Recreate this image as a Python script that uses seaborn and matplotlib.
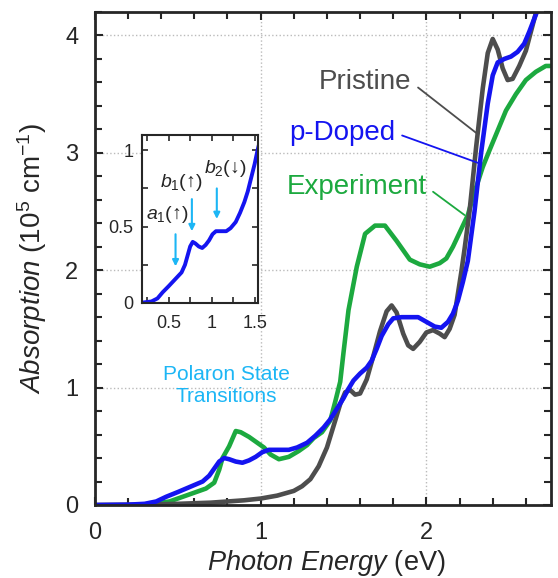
import matplotlib
matplotlib.use('Agg')
import pandas as pd
import matplotlib.pyplot as plt
import seaborn as sns
from matplotlib.ticker import MultipleLocator

# Pristine (theory)
pristine_e = [0.0, 0.3, 0.5, 0.7, 0.9, 1.0, 1.1, 1.2, 1.25, 1.3, 1.35, 1.4, 1.45, 1.48,
              1.51, 1.54, 1.57, 1.60, 1.64, 1.68, 1.72, 1.76, 1.79, 1.82, 1.86, 1.89,
              1.92, 1.96, 2.00, 2.04, 2.08, 2.11, 2.14, 2.17, 2.19, 2.21, 2.23, 2.26,
              2.30, 2.34, 2.37, 2.40, 2.43, 2.46, 2.49, 2.52, 2.56, 2.60, 2.63, 2.66, 2.70]
pristine_abs = [0.0, 0.003, 0.01, 0.02, 0.04, 0.055, 0.08, 0.12, 0.16, 0.22, 0.33, 0.49,
                0.72, 0.86, 0.96, 0.98, 0.94, 0.95, 1.07, 1.27, 1.48, 1.65, 1.70, 1.64,
                1.46, 1.36, 1.33, 1.39, 1.47, 1.49, 1.46, 1.43, 1.50, 1.62, 1.80, 1.98,
                2.18, 2.50, 3.05, 3.55, 3.85, 3.97, 3.88, 3.72, 3.62, 3.63, 3.74, 3.87,
                4.03, 4.19, 4.45]

# p-Doped (theory)
doped_e = [0.0, 0.2, 0.3, 0.37, 0.43, 0.5, 0.55, 0.6, 0.65, 0.69, 0.72, 0.75, 0.78,
           0.81, 0.85, 0.89, 0.93, 0.97, 1.01, 1.05, 1.10, 1.17, 1.22, 1.28, 1.33,
           1.38, 1.42, 1.46, 1.50, 1.53, 1.56, 1.60, 1.64, 1.67, 1.70, 1.73, 1.77,
           1.80, 1.85, 1.90, 1.95, 2.00, 2.05, 2.09, 2.13, 2.16, 2.19, 2.22, 2.25,
           2.29, 2.33, 2.37, 2.40, 2.43, 2.47, 2.51, 2.55, 2.59, 2.62, 2.65, 2.68]
doped_abs = [0.0, 0.003, 0.01, 0.03, 0.07, 0.11, 0.14, 0.17, 0.20, 0.25, 0.31, 0.37,
             0.40, 0.39, 0.37, 0.36, 0.38, 0.41, 0.45, 0.47, 0.47, 0.47, 0.49, 0.53,
             0.59, 0.66, 0.73, 0.82, 0.91, 0.99, 1.06, 1.12, 1.17, 1.23, 1.33, 1.44,
             1.54, 1.59, 1.60, 1.60, 1.60, 1.56, 1.52, 1.51, 1.56, 1.63, 1.74, 1.90,
             2.08, 2.50, 3.00, 3.42, 3.66, 3.77, 3.80, 3.82, 3.86, 3.93, 4.03, 4.14, 4.25]

# Experiment
exp_e = [0.30, 0.45, 0.57, 0.67, 0.72, 0.75, 0.77, 0.81, 0.85, 0.88, 0.93, 0.98, 1.02,
         1.06, 1.11, 1.17, 1.23, 1.28, 1.32, 1.37, 1.42, 1.45, 1.48, 1.50, 1.53, 1.58,
         1.63, 1.69, 1.75, 1.82, 1.90, 1.96, 2.02, 2.08, 2.12, 2.16, 2.20, 2.25, 2.28,
         2.34, 2.38, 2.43, 2.48, 2.54, 2.60, 2.66, 2.72, 2.75]
exp_abs = [0.0, 0.03, 0.09, 0.14, 0.19, 0.30, 0.40, 0.50, 0.63, 0.62, 0.58, 0.53, 0.49,
           0.43, 0.39, 0.41, 0.46, 0.51, 0.57, 0.62, 0.72, 0.88, 1.05, 1.30, 1.66, 2.03,
           2.31, 2.38, 2.38, 2.25, 2.09, 2.05, 2.03, 2.06, 2.10, 2.20, 2.32, 2.47, 2.62,
           2.88, 3.02, 3.19, 3.36, 3.50, 3.62, 3.69, 3.74, 3.74]

pristine = pd.DataFrame({'energy': pristine_e, 'absorption': pristine_abs})
doped = pd.DataFrame({'energy': doped_e, 'absorption': doped_abs})
experiment = pd.DataFrame({'energy': exp_e, 'absorption': exp_abs})

gray = '#4d4d4d'
blue = '#1414f0'
green = '#1ca93f'
light_blue = '#1cb6f5'

sns.set_style('ticks')
plt.rcParams['font.family'] = ['Liberation Sans', 'DejaVu Sans']
plt.rcParams['mathtext.fontset'] = 'custom'
plt.rcParams['mathtext.rm'] = 'Liberation Sans'
plt.rcParams['mathtext.it'] = 'Liberation Sans:italic'

fig = plt.figure(figsize=(5.58, 5.78), dpi=100)
ax = fig.add_axes([0.170, 0.1263, 0.817, 0.853])

sns.lineplot(data=experiment, x='energy', y='absorption', color=green, lw=3.3, ax=ax, legend=False)
sns.lineplot(data=pristine, x='energy', y='absorption', color=gray, lw=3.3, ax=ax, legend=False)
sns.lineplot(data=doped, x='energy', y='absorption', color=blue, lw=3.3, ax=ax, legend=False)

ax.set_xlim(0, 2.75)
ax.set_ylim(0, 4.2)
ax.xaxis.set_major_locator(MultipleLocator(1))
ax.xaxis.set_minor_locator(MultipleLocator(0.2))
ax.yaxis.set_major_locator(MultipleLocator(1))
ax.yaxis.set_minor_locator(MultipleLocator(0.2))
ax.tick_params(which='both', direction='in', top=True, right=True, width=1.5, labelsize=17)
ax.tick_params(which='major', length=6)
ax.tick_params(which='minor', length=5)
ax.tick_params(axis='x', pad=12)
ax.tick_params(axis='y', pad=12)
ax.grid(True, which='major', ls=':', color='#bbbbbb', lw=1)
for s in ax.spines.values():
    s.set_linewidth(2)

ax.set_xlabel(r'$\mathit{Photon\ Energy}$ (eV)', fontsize=19.5)
ax.set_ylabel(r'$\mathit{Absorption}$ (10$^5$ cm$^{-1}$)', fontsize=20)
ax.xaxis.set_label_coords(0.507, -0.088)
ax.yaxis.set_label_coords(-0.10, 0.50)

# labels with leader lines
ax.annotate('Pristine', xy=(2.30, 3.17), xytext=(1.91, 3.60), ha='right', va='center',
            fontsize=20, color=gray,
            arrowprops=dict(arrowstyle='-', color=gray, lw=1.3, relpos=(1, 0.5), shrinkA=3, shrinkB=0))
ax.annotate('p-Doped', xy=(2.32, 2.91), xytext=(1.81, 3.17), ha='right', va='center',
            fontsize=20, color=blue,
            arrowprops=dict(arrowstyle='-', color=blue, lw=1.3, relpos=(1, 0.5), shrinkA=3, shrinkB=0))
ax.annotate('Experiment', xy=(2.23, 2.47), xytext=(2.0, 2.71), ha='right', va='center',
            fontsize=20, color=green,
            arrowprops=dict(arrowstyle='-', color=green, lw=1.3, relpos=(1, 0.5), shrinkA=3, shrinkB=0))
ax.text(0.795, 1.02, 'Polaron State\nTransitions', ha='center', va='center',
        fontsize=15, color=light_blue, linespacing=1.2)

# inset: p-Doped at low energy
axin = fig.add_axes([0.2545, 0.4758, 0.208, 0.2907])
axin.set_facecolor('white')
sns.lineplot(data=doped, x='energy', y='absorption', color=blue, lw=2.8, ax=axin, legend=False)
axin.set_xlim(0.19, 1.54)
axin.set_ylim(0, 1.1)
axin.xaxis.set_minor_locator(MultipleLocator(0.25))
axin.yaxis.set_minor_locator(MultipleLocator(0.25))
axin.set_xticks([0.5, 1, 1.5])
axin.set_xticklabels(['0.5', '1', '1.5'])
axin.set_yticks([0, 0.5, 1])
axin.set_yticklabels(['0', '0.5', '1'])
axin.tick_params(which='both', direction='in', top=True, right=True, width=1.2, length=4, labelsize=13)
axin.tick_params(axis='x', pad=9)
axin.tick_params(axis='y', pad=6)
axin.set_xlabel('')
axin.set_ylabel('')
for s in axin.spines.values():
    s.set_linewidth(1.5)

arrow_kw = dict(arrowstyle='-|>', color=light_blue, lw=1.5, mutation_scale=9, shrinkA=0, shrinkB=0)
axin.annotate('', xy=(0.58, 0.24), xytext=(0.58, 0.45), arrowprops=arrow_kw)
axin.annotate('', xy=(0.77, 0.47), xytext=(0.77, 0.68), arrowprops=arrow_kw)
axin.annotate('', xy=(1.06, 0.55), xytext=(1.06, 0.75), arrowprops=arrow_kw)
axin.text(0.48, 0.58, r'$a_1$(↑)', ha='center', va='center', fontsize=14)
axin.text(0.65, 0.79, r'$b_1$(↑)', ha='center', va='center', fontsize=14)
axin.text(1.16, 0.88, r'$b_2$(↓)', ha='center', va='center', fontsize=14)

fig.savefig('out.png', dpi=100)
